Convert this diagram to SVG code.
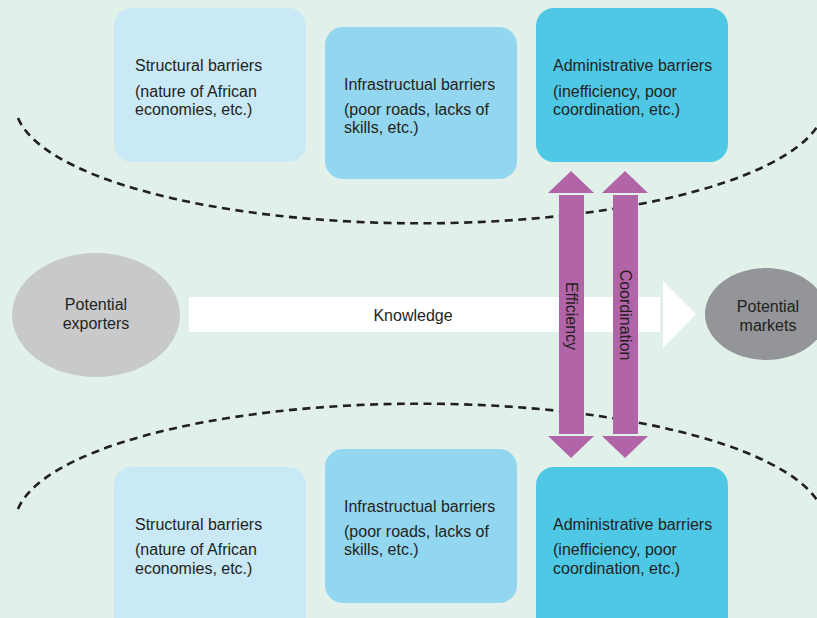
<svg xmlns="http://www.w3.org/2000/svg" width="817" height="618" viewBox="0 0 817 618">
<style>
.t{font-family:"Liberation Sans",Arial,sans-serif;font-size:16px;fill:#231f20}
.c{text-anchor:middle}
.b1{fill:#c9e9f6}
.b2{fill:#93d6ef}
.b3{fill:#4fc8e6}
.dash{fill:none;stroke:#231f20;stroke-width:2.6;stroke-dasharray:8 5.5}
.pur{fill:#b264a8}
</style>
<rect x="0" y="0" width="817" height="618" fill="#e1f0e9"/>
<g id="boundaries">
<path class="dash" d="M 18 118 A 405 120 0 0 0 817 127"/>
<path class="dash" d="M 18 509 A 405 120 0 0 1 817 500"/>
</g>
<g id="top-structural">
<rect class="b1" x="114" y="8" width="192" height="154" rx="18"/>
<text class="t" x="135" y="71">Structural barriers</text>
<text class="t" x="135" y="97">(nature of African</text>
<text class="t" x="135" y="115">economies, etc.)</text>
</g>
<g id="top-infrastructural">
<rect class="b2" x="325" y="27" width="192" height="152" rx="18"/>
<text class="t" x="344" y="90">Infrastructual barriers</text>
<text class="t" x="344" y="115">(poor roads, lacks of</text>
<text class="t" x="344" y="133">skills, etc.)</text>
</g>
<g id="top-administrative">
<rect class="b3" x="536" y="8" width="192" height="154" rx="18"/>
<text class="t" x="553" y="71">Administrative barriers</text>
<text class="t" x="553" y="97">(inefficiency, poor</text>
<text class="t" x="553" y="115">coordination, etc.)</text>
</g>
<g id="bottom-structural">
<rect class="b1" x="114" y="467" width="192" height="170" rx="18"/>
<text class="t" x="135" y="530">Structural barriers</text>
<text class="t" x="135" y="555">(nature of African</text>
<text class="t" x="135" y="574">economies, etc.)</text>
</g>
<g id="bottom-infrastructural">
<rect class="b2" x="325" y="449" width="192" height="154" rx="18"/>
<text class="t" x="344" y="512">Infrastructual barriers</text>
<text class="t" x="344" y="537">(poor roads, lacks of</text>
<text class="t" x="344" y="555">skills, etc.)</text>
</g>
<g id="bottom-administrative">
<rect class="b3" x="536" y="467" width="192" height="170" rx="18"/>
<text class="t" x="553" y="530">Administrative barriers</text>
<text class="t" x="553" y="555">(inefficiency, poor</text>
<text class="t" x="553" y="574">coordination, etc.)</text>
</g>
<g id="potential-exporters">
<ellipse cx="96" cy="315" rx="84" ry="62" fill="#c8c9cb"/>
<text class="t c" x="96" y="310">Potential</text>
<text class="t c" x="96" y="329">exporters</text>
</g>
<g id="potential-markets">
<ellipse cx="766" cy="314" rx="61" ry="46" fill="#939598"/>
<text class="t c" x="768" y="312">Potential</text>
<text class="t c" x="768" y="331">markets</text>
</g>
<g id="connectors">
<g id="knowledge">
<rect x="189" y="297" width="471" height="35" fill="#ffffff"/>
<polygon points="663,281 696,314 663,348" fill="#ffffff"/>
<text class="t c" x="413" y="321">Knowledge</text>
</g>
<g id="efficiency">
<rect class="pur" x="559" y="195" width="25" height="239"/>
<polygon class="pur" points="548,193 594,193 571,171"/>
<polygon class="pur" points="548,436 594,436 571,458"/>
<text class="t c" transform="translate(571,316) rotate(90)" x="0" y="5.5">Efficiency</text>
</g>
<g id="coordination">
<rect class="pur" x="613" y="195" width="25" height="239"/>
<polygon class="pur" points="602,193 648,193 625,171"/>
<polygon class="pur" points="602,436 648,436 625,458"/>
<text class="t c" transform="translate(625,315) rotate(90)" x="0" y="5.5">Coordination</text>
</g>
</g>
</svg>
